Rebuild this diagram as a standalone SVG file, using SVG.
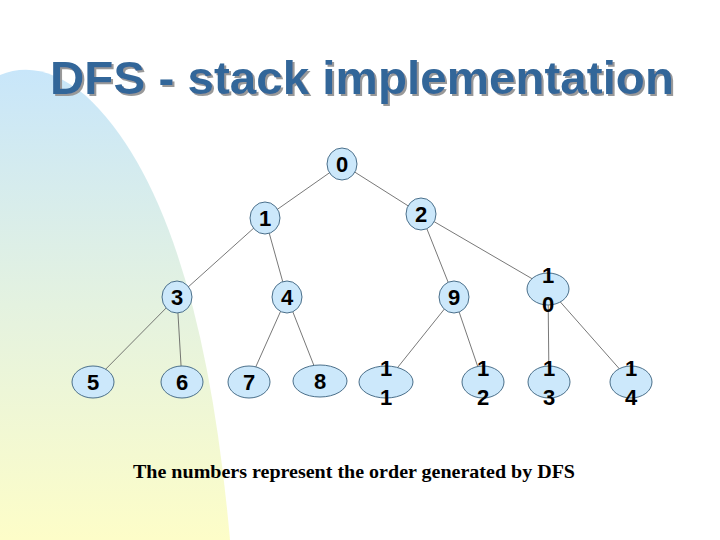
<svg xmlns="http://www.w3.org/2000/svg" width="720" height="540" viewBox="0 0 720 540">
<defs>
<linearGradient id="bg" x1="0" y1="0" x2="0" y2="1">
<stop offset="0" stop-color="#c8e6fa"/>
<stop offset="0.5" stop-color="#e4f2e0"/>
<stop offset="1" stop-color="#fdfdc8"/>
</linearGradient>
<filter id="sh" x="-5%" y="-20%" width="110%" height="140%">
<feDropShadow dx="2" dy="2" stdDeviation="0.5" flood-color="#999"/>
</filter>
<style>
.n ellipse{fill:#cce8fb;stroke:#4a6f8a;stroke-width:1}
.n text{font-family:"Liberation Sans",Arial,sans-serif;font-weight:bold;font-size:22px;text-anchor:middle;fill:#000}
#edges line{stroke:#555;stroke-width:0.8}
</style>
</defs>
<rect width="720" height="540" fill="#fff"/>
<path d="M0,75 Q40,58 85,95 Q200,200 230,540 L0,540 Z" fill="url(#bg)"/>
<text x="362" y="94" font-family="Liberation Sans,Arial,sans-serif" font-weight="bold" font-size="47" text-anchor="middle" fill="#336699" filter="url(#sh)" textLength="624" lengthAdjust="spacingAndGlyphs">DFS - stack implementation</text>
<g id="edges">
<line x1="342" y1="164" x2="265" y2="218"/>
<line x1="342" y1="164" x2="421" y2="214"/>
<line x1="265" y1="218" x2="177" y2="297"/>
<line x1="265" y1="218" x2="287" y2="297"/>
<line x1="421" y1="214" x2="454" y2="297"/>
<line x1="421" y1="214" x2="548" y2="288"/>
<line x1="177" y1="297" x2="93" y2="382"/>
<line x1="177" y1="297" x2="182" y2="382"/>
<line x1="287" y1="297" x2="249" y2="382"/>
<line x1="287" y1="297" x2="320" y2="381"/>
<line x1="454" y1="297" x2="386" y2="382"/>
<line x1="454" y1="297" x2="483" y2="382"/>
<line x1="548" y1="288" x2="549" y2="382"/>
<line x1="548" y1="288" x2="631" y2="382"/>
</g>
<g id="n0" class="n"><ellipse cx="342" cy="164" rx="15" ry="16"/><text x="342" y="172">0</text></g>
<g id="n1" class="n"><ellipse cx="265" cy="218" rx="15" ry="16"/><text x="265" y="226">1</text></g>
<g id="n2" class="n"><ellipse cx="421" cy="214" rx="15" ry="16"/><text x="421" y="222">2</text></g>
<g id="n3" class="n"><ellipse cx="177" cy="297" rx="15" ry="16"/><text x="177" y="305">3</text></g>
<g id="n4" class="n"><ellipse cx="287" cy="297" rx="15" ry="16"/><text x="287" y="305">4</text></g>
<g id="n9" class="n"><ellipse cx="454" cy="297" rx="15" ry="16"/><text x="454" y="305">9</text></g>
<g id="n10" class="n"><ellipse cx="548" cy="289" rx="21" ry="16"/><text x="548" y="283">1</text><text x="548" y="312">0</text></g>
<g id="n5" class="n"><ellipse cx="93" cy="382" rx="21" ry="16"/><text x="93" y="390">5</text></g>
<g id="n6" class="n"><ellipse cx="182" cy="382" rx="21" ry="16"/><text x="182" y="390">6</text></g>
<g id="n7" class="n"><ellipse cx="249" cy="382" rx="21" ry="16"/><text x="249" y="390">7</text></g>
<g id="n8" class="n"><ellipse cx="320" cy="381" rx="27" ry="16"/><text x="320" y="389">8</text></g>
<g id="n11" class="n"><ellipse cx="386" cy="382" rx="27" ry="16"/><text x="386" y="376">1</text><text x="386" y="405">1</text></g>
<g id="n12" class="n"><ellipse cx="483" cy="382" rx="21" ry="16"/><text x="483" y="376">1</text><text x="483" y="405">2</text></g>
<g id="n13" class="n"><ellipse cx="549" cy="382" rx="21" ry="16"/><text x="549" y="376">1</text><text x="549" y="405">3</text></g>
<g id="n14" class="n"><ellipse cx="631" cy="382" rx="21" ry="16"/><text x="631" y="376">1</text><text x="631" y="405">4</text></g>
<text x="133" y="478" font-family="Liberation Serif,Times New Roman,serif" font-weight="bold" font-size="19" fill="#000" textLength="442" lengthAdjust="spacingAndGlyphs">The numbers represent the order generated by DFS</text>
</svg>
